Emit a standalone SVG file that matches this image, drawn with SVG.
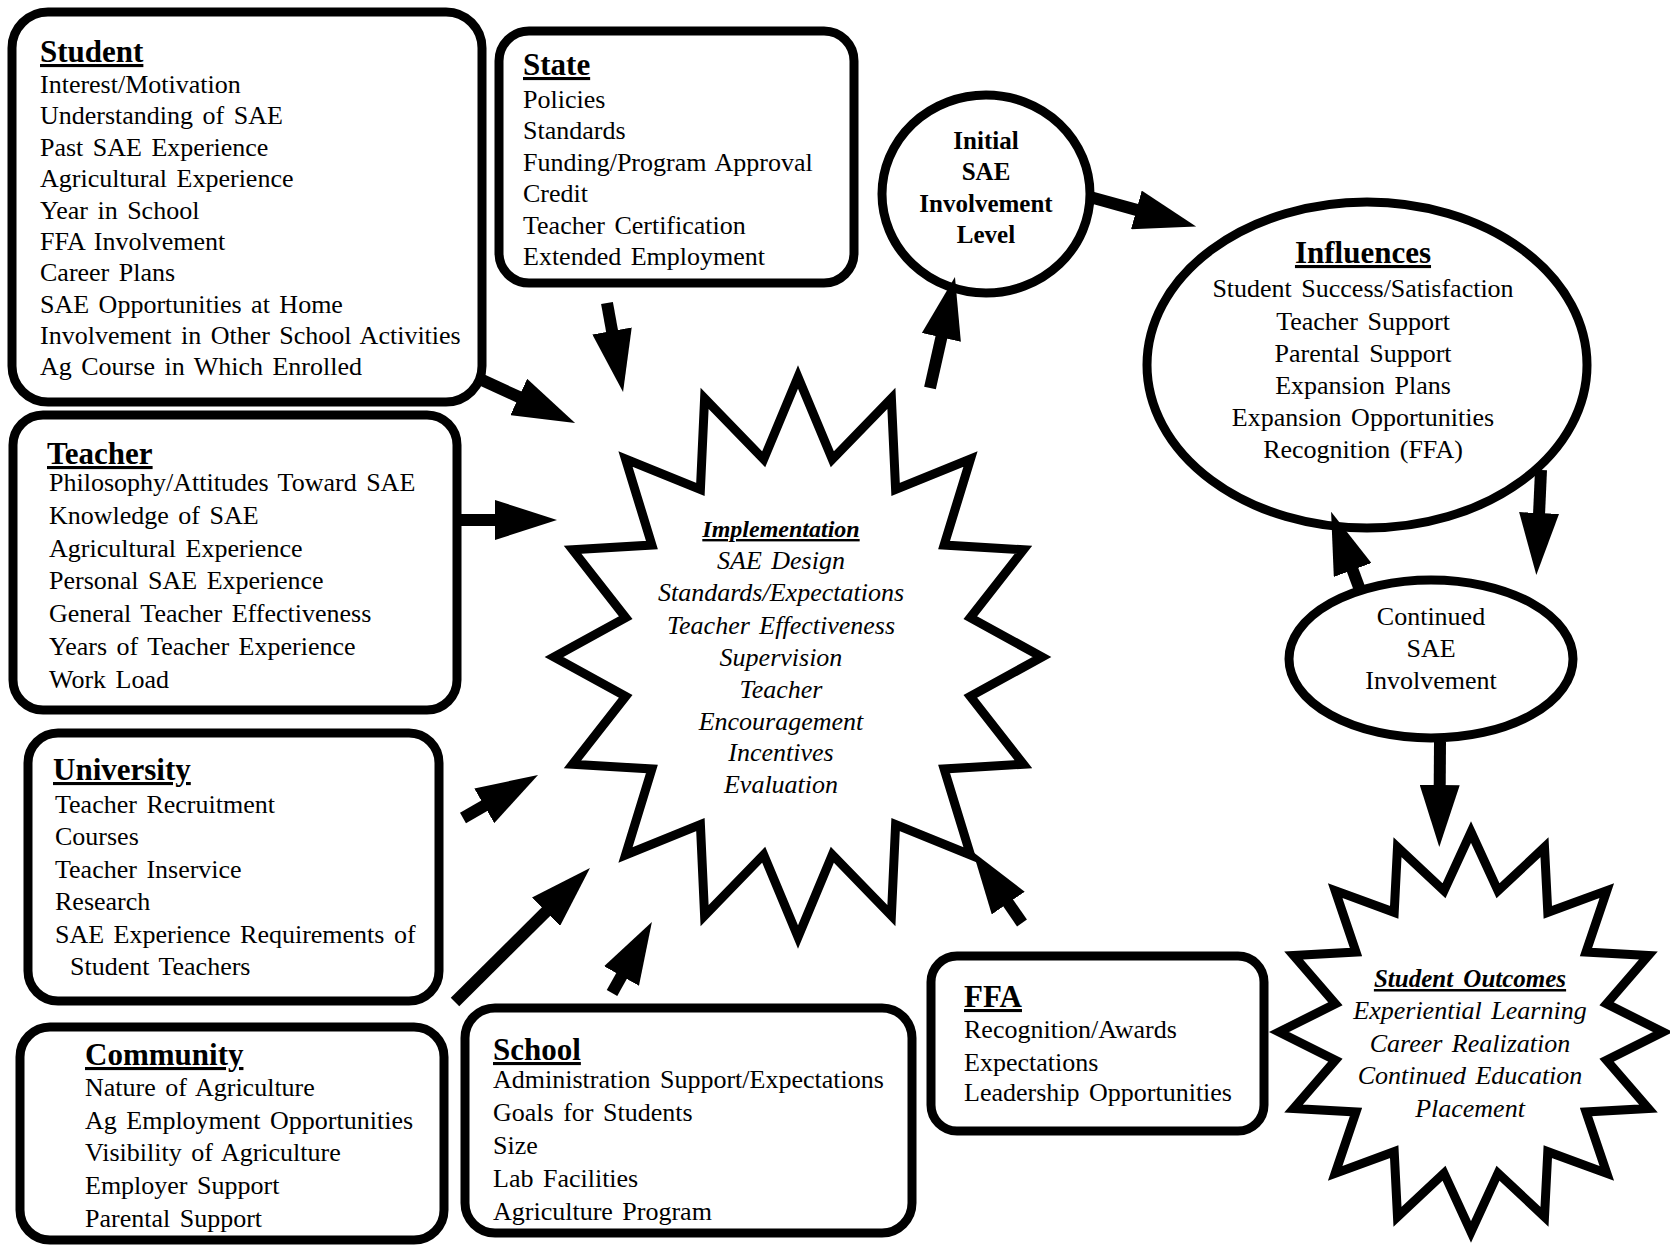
<svg xmlns="http://www.w3.org/2000/svg" width="1670" height="1246" viewBox="0 0 1670 1246">
<defs>
<style>
.box{fill:#fff;stroke:#000;stroke-width:9}
.shape{fill:#fff;stroke:#000;stroke-width:9;stroke-linejoin:miter;stroke-miterlimit:12}
text{font-family:"Liberation Serif","Times New Roman",serif;fill:#000}
.t{font-size:26px;word-spacing:3px}
.h{font-size:31px;font-weight:bold;text-decoration:underline}
.c{text-anchor:middle}
.i{font-style:italic}
.b{font-weight:bold}
.conn line{stroke:#000;stroke-width:12;marker-end:url(#ah)}
</style>
<marker id="ah" markerUnits="userSpaceOnUse" markerWidth="64" markerHeight="40" refX="2" refY="20" orient="auto">
<path d="M0,0 L62,20 L0,40 z" fill="#000"/>
</marker>
</defs>
<rect width="1670" height="1246" fill="#fff"/>

<g id="student">
<rect class="box" x="12" y="12" width="470" height="390" rx="36"/>
<text class="h" x="40" y="62">Student</text>
<text class="t" x="40" y="93">Interest/Motivation</text>
<text class="t" x="40" y="124">Understanding of SAE</text>
<text class="t" x="40" y="156">Past SAE Experience</text>
<text class="t" x="40" y="187">Agricultural  Experience</text>
<text class="t" x="40" y="219">Year in School</text>
<text class="t" x="40" y="250">FFA  Involvement</text>
<text class="t" x="40" y="281">Career Plans</text>
<text class="t" x="40" y="313">SAE Opportunities at Home</text>
<text class="t" x="40" y="344">Involvement in Other School Activities</text>
<text class="t" x="40" y="375">Ag Course in Which Enrolled</text>
</g>

<g id="state">
<rect class="box" x="499" y="31" width="355" height="252" rx="30"/>
<text class="h" x="523" y="75">State</text>
<text class="t" x="523" y="108">Policies</text>
<text class="t" x="523" y="139">Standards</text>
<text class="t" x="523" y="171">Funding/Program  Approval</text>
<text class="t" x="523" y="202">Credit</text>
<text class="t" x="523" y="234">Teacher  Certification</text>
<text class="t" x="523" y="265">Extended  Employment</text>
</g>

<g id="teacher">
<rect class="box" x="13" y="415" width="444" height="295" rx="30"/>
<text class="h" x="47" y="464">Teacher</text>
<text class="t" x="49" y="491">Philosophy/Attitudes  Toward  SAE</text>
<text class="t" x="49" y="524">Knowledge of SAE</text>
<text class="t" x="49" y="557">Agricultural  Experience</text>
<text class="t" x="49" y="589">Personal  SAE Experience</text>
<text class="t" x="49" y="622">General  Teacher  Effectiveness</text>
<text class="t" x="49" y="655">Years of Teacher  Experience</text>
<text class="t" x="49" y="688">Work Load</text>
</g>

<g id="university">
<rect class="box" x="28" y="733" width="411" height="268" rx="30"/>
<text class="h" x="53" y="780">University</text>
<text class="t" x="55" y="813">Teacher  Recruitment</text>
<text class="t" x="55" y="845">Courses</text>
<text class="t" x="55" y="878">Teacher  Inservice</text>
<text class="t" x="55" y="910">Research</text>
<text class="t" x="55" y="943">SAE Experience Requirements of</text>
<text class="t" x="70" y="975">Student  Teachers</text>
</g>

<g id="community">
<rect class="box" x="20" y="1027" width="424" height="213" rx="30"/>
<text class="h" x="85" y="1065">Community</text>
<text class="t" x="85" y="1096">Nature of Agriculture</text>
<text class="t" x="85" y="1129">Ag Employment Opportunities</text>
<text class="t" x="85" y="1161">Visibility of Agriculture</text>
<text class="t" x="85" y="1194">Employer Support</text>
<text class="t" x="85" y="1227">Parental Support</text>
</g>

<g id="school">
<rect class="box" x="465" y="1008" width="447" height="225" rx="30"/>
<text class="h" x="493" y="1060">School</text>
<text class="t" x="493" y="1088">Administration  Support/Expectations</text>
<text class="t" x="493" y="1121">Goals for Students</text>
<text class="t" x="493" y="1154">Size</text>
<text class="t" x="493" y="1187">Lab Facilities</text>
<text class="t" x="493" y="1220">Agriculture Program</text>
</g>

<g id="ffa">
<rect class="box" x="931" y="956" width="333" height="175" rx="26"/>
<text class="h" x="964" y="1007">FFA</text>
<text class="t" x="964" y="1038">Recognition/Awards</text>
<text class="t" x="964" y="1071">Expectations</text>
<text class="t" x="964" y="1101">Leadership  Opportunities</text>
</g>

<g id="implementation">
<polygon class="shape" points="798,377 832.3,459.3 891.4,398.3 895.6,489.4 970.5,459 944.1,545 1023.4,549.8 970.3,617.7 1042,657 970.3,696.3 1023.4,764.2 944.1,769 970.5,855 895.6,824.6 891.4,915.7 832.3,854.7 798,937 763.7,854.7 704.6,915.7 700.4,824.6 625.5,855 651.9,769 572.6,764.2 625.7,696.3 554,657 625.7,617.7 572.6,549.8 651.9,545 625.5,459 700.4,489.4 704.6,398.3 763.7,459.3"/>
<text class="c i b" x="781" y="537" font-size="24" text-decoration="underline">Implementation</text>
<text class="t c i" x="781" y="569">SAE Design</text>
<text class="t c i" x="781" y="601">Standards/Expectations</text>
<text class="t c i" x="781" y="634">Teacher  Effectiveness</text>
<text class="t c i" x="781" y="666">Supervision</text>
<text class="t c i" x="781" y="698">Teacher</text>
<text class="t c i" x="781" y="730">Encouragement</text>
<text class="t c i" x="781" y="761">Incentives</text>
<text class="t c i" x="781" y="793">Evaluation</text>
</g>

<g id="initial">
<ellipse class="shape" cx="986" cy="194" rx="104" ry="99"/>
<text class="c b" x="986" y="149" font-size="25">Initial</text>
<text class="c b" x="986" y="180" font-size="25">SAE</text>
<text class="c b" x="986" y="212" font-size="25">Involvement</text>
<text class="c b" x="986" y="243" font-size="25">Level</text>
</g>

<g id="influences">
<ellipse class="shape" cx="1367" cy="365" rx="220" ry="163"/>
<text class="h c" x="1363" y="263">Influences</text>
<text class="t c" x="1363" y="297">Student  Success/Satisfaction</text>
<text class="t c" x="1363" y="330">Teacher Support</text>
<text class="t c" x="1363" y="362">Parental Support</text>
<text class="t c" x="1363" y="394">Expansion Plans</text>
<text class="t c" x="1363" y="426">Expansion  Opportunities</text>
<text class="t c" x="1363" y="458">Recognition  (FFA)</text>
</g>

<g id="continued">
<ellipse class="shape" cx="1431" cy="659" rx="142" ry="79"/>
<text class="t c" x="1431" y="625">Continued</text>
<text class="t c" x="1431" y="657">SAE</text>
<text class="t c" x="1431" y="689">Involvement</text>
</g>

<g id="outcomes">
<polygon class="shape" points="1471,832 1498,890.8 1544.5,847.2 1547.8,912.3 1606.8,890.6 1586,952 1648.4,955.5 1606.6,1003.9 1663,1032 1606.6,1060.1 1648.4,1108.5 1586,1112 1606.8,1173.4 1547.8,1151.7 1544.5,1216.8 1498,1173.2 1471,1232 1444,1173.2 1397.5,1216.8 1394.2,1151.7 1335.2,1173.4 1356,1112 1293.6,1108.5 1335.4,1060.1 1279,1032 1335.4,1003.9 1293.6,955.5 1356,952 1335.2,890.6 1394.2,912.3 1397.5,847.2 1444,890.8"/>
<text class="c i b" x="1470" y="987" font-size="25" word-spacing="4" text-decoration="underline">Student Outcomes</text>
<text class="t c i" x="1470" y="1019">Experiential  Learning</text>
<text class="t c i" x="1470" y="1052">Career  Realization</text>
<text class="t c i" x="1470" y="1084">Continued  Education</text>
<text class="t c i" x="1470" y="1117">Placement</text>
</g>

<g id="connectors" class="conn">
<line x1="482" y1="380" x2="520.6" y2="397.8"/>
<line x1="607" y1="303" x2="612.4" y2="332.9"/>
<line x1="461" y1="520" x2="497" y2="520"/>
<line x1="463" y1="818" x2="486" y2="804.8"/>
<line x1="455" y1="1002" x2="547.4" y2="910.3"/>
<line x1="612" y1="993" x2="622.5" y2="974.3"/>
<line x1="1022" y1="923" x2="1007.1" y2="901.4"/>
<line x1="930" y1="388" x2="941.8" y2="335.5"/>
<line x1="1090" y1="197" x2="1138.3" y2="210.4"/>
<line x1="1541" y1="470" x2="1539" y2="515"/>
<line x1="1360" y1="590" x2="1351.9" y2="568.1"/>
<line x1="1440" y1="742" x2="1439.7" y2="787"/>
</g>
</svg>
